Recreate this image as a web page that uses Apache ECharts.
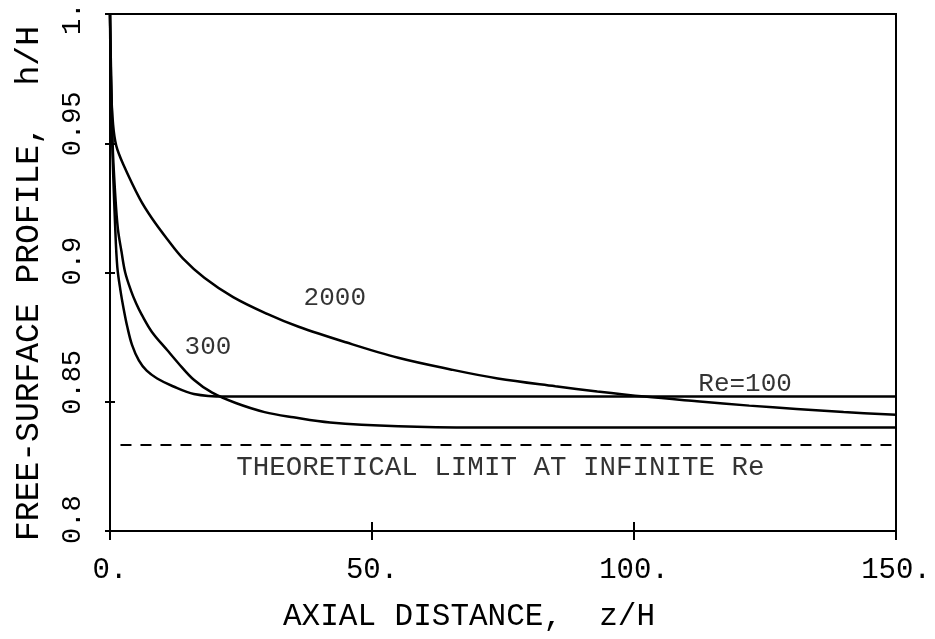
<!DOCTYPE html>
<html><head><meta charset="utf-8">
<script src="https://cdn.jsdelivr.net/npm/echarts@6/dist/echarts.min.js"></script>
<style>html,body{margin:0;padding:0;background:#fff}#c{width:935px;height:639px}</style>
</head><body><div id="c"></div>
<script>
// ---- data ----
const re100Z = [0, 0.4, 1.0, 1.4, 2.0, 2.6, 3.3, 4.2, 5.5, 7, 9, 12, 16, 22, 30, 50, 75, 100, 125, 150];
const re100H = [1, 0.952, 0.917, 0.902, 0.893, 0.886, 0.879, 0.872, 0.866, 0.862, 0.859, 0.856, 0.853, 0.852, 0.852, 0.852, 0.852, 0.852, 0.852, 0.852];

const re300Z = [0, 0.5, 1.0, 1.5, 2.2, 2.9, 4.0, 5.0, 6.1, 8, 10.9, 13, 16, 19.5, 24, 29.5, 35, 42, 55, 70, 90, 120, 150];
const re300H = [1, 0.95, 0.93, 0.917, 0.908, 0.90, 0.893, 0.888, 0.8835, 0.877, 0.870, 0.865, 0.8585, 0.8535, 0.8495, 0.846, 0.844, 0.842, 0.8405, 0.840, 0.840, 0.840, 0.840];

const re2000Z = [0, 0.2, 0.6, 1.2, 2.5, 5.7, 8, 10.9, 13.9, 18, 23.5, 30, 36, 45, 55, 65, 74, 85, 93, 102, 112, 122, 131, 140, 150];
const re2000H = [1, 0.972, 0.957, 0.949, 0.942, 0.9285, 0.921, 0.913, 0.9055, 0.898, 0.8905, 0.884, 0.879, 0.873, 0.867, 0.8625, 0.859, 0.856, 0.854, 0.852, 0.8502, 0.8485, 0.8472, 0.846, 0.845];

const limitZ = [2, 150];
const limitH = [0.8333, 0.8333];

const xTicks = [0, 50, 100, 150];
const xTickLabels = ['0.', '50.', '100.', '150.'];
const yTicks = [0.8, 0.85, 0.9, 0.95, 1.0];
const yTickLabels = ['0.8', '0.85', '0.9', '0.95', '1.'];

const noteTexts = ['2000', '300', 'Re=100', 'THEORETICAL LIMIT AT INFINITE Re'];
const noteZ = [42.9, 18.7, 121.2, 74.5];
const noteH = [0.890, 0.871, 0.857, 0.8246];

// ---- chart ----
const FONT = "'Liberation Mono', 'DejaVu Sans Mono', monospace";
const INK = '#000';
const pairs = (xs, ys) => xs.map((x, i) => [x, ys[i]]);
const lbl = (v, ticks, labels) => {
  for (let i = 0; i < ticks.length; i++) if (Math.abs(v - ticks[i]) < 1e-6) return labels[i];
  return '';
};

const lineSeries = (name, xs, ys) => ({
  name, type: 'line', data: pairs(xs, ys), showSymbol: false, symbol: 'none',
  smooth: 0.35,
  lineStyle: { color: INK, width: 2.5 }, z: 3, silent: true
});

const chart = echarts.init(document.getElementById('c'), null, { renderer: 'canvas' });
const baseX = { type: 'value', min: 0, max: 150, interval: 50 };
const baseY = { type: 'value', min: 0.8, max: 1.0, interval: 0.05 };

chart.setOption({
  animation: false,
  backgroundColor: '#fff',
  grid: { left: 110, right: 39, top: 14, bottom: 108, containLabel: false, outerBoundsMode: 'none',
    show: true, borderColor: INK, borderWidth: 2, backgroundColor: 'transparent' },
  xAxis: [
    Object.assign({}, baseX, {
      position: 'bottom',
      name: 'AXIAL DISTANCE,  z/H', nameLocation: 'middle', nameGap: 70,
      nameTextStyle: { fontFamily: FONT, fontSize: 31, color: INK, padding: [0, 68, 0, 0] },
      axisLine: { show: true, lineStyle: { color: INK, width: 2 } },
      axisTick: { show: true, inside: false, length: 9, lineStyle: { color: INK, width: 2 } },
      axisLabel: { show: true, margin: 25, fontFamily: FONT, fontSize: 29, color: INK,
        formatter: v => lbl(v, xTicks, xTickLabels) },
      splitLine: { show: false }
    }),
    Object.assign({}, baseX, {
      position: 'bottom',
      axisLine: { show: false },
      axisTick: { show: true, inside: true, length: 9, lineStyle: { color: INK, width: 2 } },
      axisLabel: { show: false }, splitLine: { show: false }
    })
  ],
  yAxis: [
    Object.assign({}, baseY, {
      position: 'left',
      name: 'FREE-SURFACE PROFILE,  h/H', nameLocation: 'middle', nameGap: 64,
      nameTextStyle: { fontFamily: FONT, fontSize: 33, color: INK, padding: [0, 22, 0, 0] },
      axisLine: { show: true, lineStyle: { color: INK, width: 2 } },
      axisTick: { show: true, inside: false, length: 5, lineStyle: { color: INK, width: 2 } },
      axisLabel: { show: true, margin: 24, rotate: 90, align: 'left', verticalAlign: 'bottom',
        padding: [0, 0, 0, -13],
        fontFamily: FONT, fontSize: 27, color: INK,
        formatter: v => {
          const t = lbl(v, yTicks, yTickLabels);
          return Math.abs(v - 1) < 1e-6 ? '{top|' + t + '}' : t;
        },
        rich: { top: { fontFamily: FONT, fontSize: 27, color: INK, padding: [0, 0, 0, -8] } } },
      splitLine: { show: false }
    }),
    Object.assign({}, baseY, {
      position: 'left',
      axisLine: { show: false },
      axisTick: { show: true, inside: true, length: 5, lineStyle: { color: INK, width: 2 } },
      axisLabel: { show: false }, splitLine: { show: false }
    })
  ],
  series: [
    lineSeries('Re=100', re100Z, re100H),
    lineSeries('Re=300', re300Z, re300H),
    lineSeries('Re=2000', re2000Z, re2000H),
    {
      name: 'limit', type: 'line', data: pairs(limitZ, limitH), showSymbol: false, symbol: 'none',
      lineStyle: { color: INK, width: 2, type: [11, 9] }, silent: true
    },
    {
      name: 'notes', type: 'scatter', symbolSize: 0, silent: true,
      data: noteTexts.map((t, i) => ({ name: t, value: [noteZ[i], noteH[i]],
        label: t.length > 10 ? { fontSize: 27.5 } : undefined })),
      label: { show: true, position: 'inside', formatter: p => p.name,
        fontFamily: FONT, fontSize: 26, color: INK, textBorderWidth: 0 }
    }
  ]
});
</script>
</body></html>
